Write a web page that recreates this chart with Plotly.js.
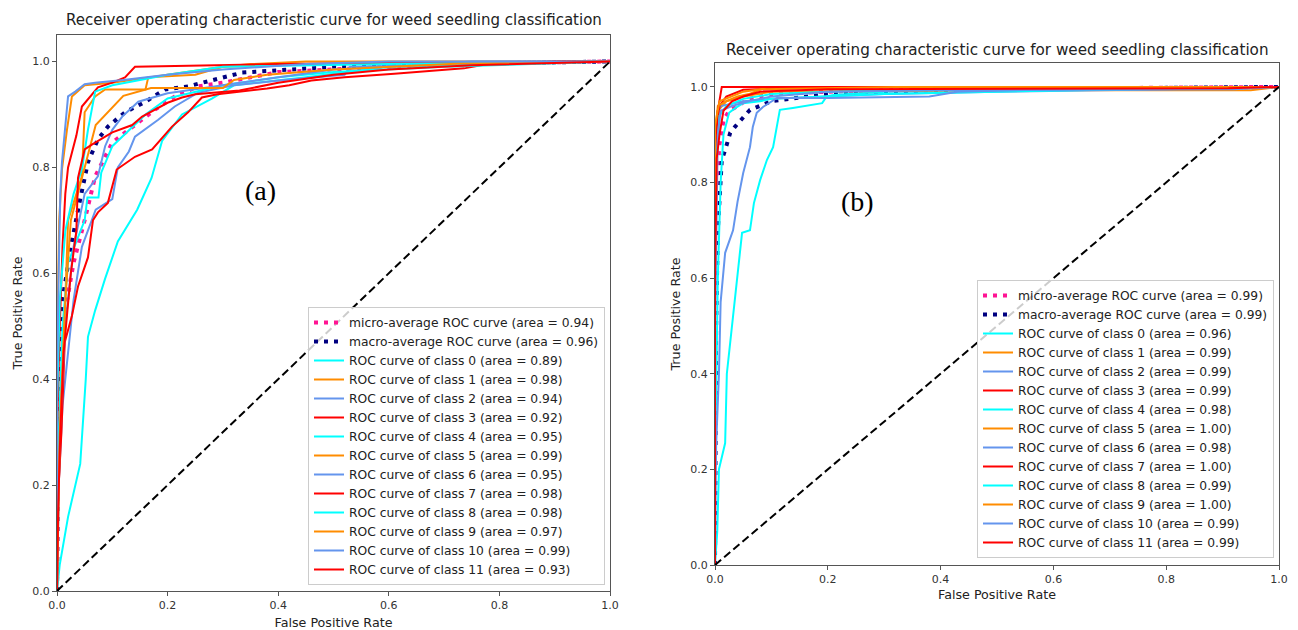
<!DOCTYPE html>
<html>
<head>
<meta charset="utf-8">
<script src="https://cdn.plot.ly/plotly-3.0.1.min.js"></script>
<style>html,body{margin:0;padding:0;background:#fff}#chart{width:1298px;height:630px}</style>
</head>
<body>
<div id="chart"></div>
<script>
// ---------- Panel (a) ----------
const a_micro_fpr = [0,0.002,0.01,0.03,0.05,0.069,0.1,0.136,0.177,0.213,0.255,0.3,0.4,0.6,0.8,1];
const a_micro_tpr = [0,0.3,0.5,0.62,0.7,0.783,0.847,0.877,0.909,0.934,0.953,0.96,0.98,0.99,0.997,1];
const a_macro_fpr = [0,0.002,0.01,0.025,0.04,0.056,0.074,0.092,0.123,0.16,0.195,0.237,0.286,0.335,0.5,0.7,1];
const a_macro_tpr = [0,0.35,0.55,0.65,0.73,0.81,0.853,0.877,0.904,0.924,0.947,0.953,0.966,0.979,0.99,0.995,1];
const a_c0_fpr = [0,0.005,0.02,0.042,0.052,0.056,0.069,0.087,0.11,0.145,0.171,0.19,0.226,0.28,0.32,0.45,0.6,1];
const a_c0_tpr = [0,0.05,0.14,0.24,0.4,0.48,0.53,0.59,0.66,0.72,0.78,0.85,0.9,0.93,0.955,0.97,0.99,1];
const a_c1_fpr = [0,0.003,0.014,0.02,0.045,0.05,0.069,0.087,0.16,0.165,0.25,0.3,0.35,0.45,1];
const a_c1_tpr = [0,0.3,0.518,0.7,0.783,0.904,0.934,0.947,0.947,0.97,0.975,0.99,0.995,1,1];
const a_c2_fpr = [0,0.003,0.01,0.02,0.03,0.045,0.07,0.1,0.11,0.13,0.141,0.183,0.213,0.255,0.32,0.41,0.52,0.53,0.63,0.75,1];
const a_c2_tpr = [0,0.2,0.35,0.45,0.55,0.65,0.72,0.74,0.8,0.83,0.858,0.89,0.915,0.941,0.955,0.965,0.975,0.99,0.992,1,1];
const a_c3_fpr = [0,0,0.003,0.008,0.014,0.027,0.038,0.056,0.065,0.074,0.092,0.108,0.141,0.172,0.208,0.237,0.262,0.29,0.38,0.42,0.46,0.52,0.61,0.736,0.785,0.91,1];
const a_c3_tpr = [0,0.1,0.2,0.3,0.47,0.52,0.575,0.63,0.7,0.715,0.733,0.796,0.82,0.834,0.877,0.904,0.932,0.938,0.949,0.955,0.964,0.97,0.977,0.987,0.996,1,1];
const a_c4_fpr = [0,0.003,0.01,0.02,0.05,0.055,0.075,0.08,0.1,0.13,0.16,0.2,0.3,0.4,0.5,0.7,1];
const a_c4_tpr = [0,0.3,0.5,0.62,0.7,0.743,0.743,0.79,0.84,0.87,0.9,0.93,0.955,0.97,0.98,0.99,1];
const a_c5_fpr = [0,0,0.004,0.009,0.018,0.027,0.05,0.1,0.2,0.3,0.45,1];
const a_c5_tpr = [0,0.45,0.7,0.796,0.871,0.934,0.955,0.96,0.975,0.99,0.995,1];
const a_c6_fpr = [0,0.005,0.015,0.03,0.05,0.074,0.087,0.1,0.118,0.147,0.2,0.3,0.37,0.5,0.7,1];
const a_c6_tpr = [0,0.3,0.5,0.65,0.75,0.783,0.84,0.871,0.896,0.924,0.94,0.955,0.965,0.985,0.995,1];
const a_c7_fpr = [0,0,0.005,0.01,0.015,0.02,0.035,0.045,0.074,0.1,0.123,0.141,0.4,0.6,1];
const a_c7_tpr = [0,0.3,0.5,0.65,0.75,0.8,0.86,0.915,0.951,0.96,0.97,0.99,0.995,0.997,1];
const a_c8_fpr = [0,0,0.005,0.015,0.03,0.045,0.056,0.069,0.1,0.2,0.3,0.6,1];
const a_c8_tpr = [0,0.35,0.55,0.68,0.75,0.796,0.871,0.943,0.955,0.975,0.99,0.995,1];
const a_c9_fpr = [0,0.005,0.015,0.025,0.05,0.07,0.12,0.17,0.3,0.32,0.38,0.5,0.73,1];
const a_c9_tpr = [0,0.3,0.55,0.7,0.8,0.88,0.935,0.95,0.95,0.965,0.975,0.985,0.996,1];
const a_c10_fpr = [0,0,0.003,0.006,0.009,0.014,0.02,0.033,0.05,0.069,0.12,0.2,0.3,0.45,0.6,1];
const a_c10_tpr = [0,0.4,0.6,0.75,0.81,0.871,0.934,0.943,0.957,0.96,0.965,0.975,0.985,0.995,1,1];
const a_c11_fpr = [0,0.002,0.006,0.012,0.018,0.025,0.035,0.038,0.05,0.063,0.1,0.136,0.154,0.177,0.2,0.226,0.25,0.33,0.4,0.5,0.6,0.75,1];
const a_c11_tpr = [0,0.15,0.3,0.45,0.52,0.6,0.68,0.78,0.834,0.843,0.866,0.88,0.896,0.909,0.922,0.932,0.938,0.945,0.96,0.975,0.985,0.993,1];
const a_area = ['0.89','0.98','0.94','0.92','0.95','0.99','0.95','0.98','0.98','0.97','0.99','0.93'];
const a_micro_area = '0.94', a_macro_area = '0.96';

// ---------- Panel (b) ----------
const b_micro_fpr = [0,0,0.003,0.008,0.015,0.025,0.04,0.06,0.1,0.2,0.4,0.7,1];
const b_micro_tpr = [0,0.5,0.8,0.88,0.93,0.95,0.96,0.975,0.985,0.99,0.995,0.998,1];
const b_macro_fpr = [0,0.002,0.005,0.01,0.012,0.018,0.024,0.027,0.035,0.05,0.062,0.1,0.2,0.3,0.5,0.8,1];
const b_macro_tpr = [0,0.5,0.7,0.8,0.847,0.868,0.895,0.904,0.916,0.935,0.952,0.97,0.985,0.99,0.995,0.998,1];
const b_c0_fpr = [0,0.004,0.007,0.018,0.021,0.035,0.039,0.048,0.062,0.069,0.08,0.092,0.103,0.11,0.115,0.138,0.19,0.198,0.21,0.3,0.5,1];
const b_c0_tpr = [0,0.07,0.2,0.255,0.4,0.554,0.603,0.695,0.7,0.757,0.805,0.847,0.874,0.916,0.952,0.956,0.966,0.98,0.983,0.99,0.995,1];
const b_c1_fpr = [0,0,0.005,0.02,0.05,0.1,0.5,0.95,1];
const b_c1_tpr = [0,0.85,0.95,0.97,0.98,0.99,0.993,0.993,1];
const b_c2_fpr = [0,0,0.003,0.005,0.01,0.05,0.1,0.3,0.5,0.8,1];
const b_c2_tpr = [0,0.6,0.85,0.95,0.96,0.97,0.975,0.985,0.99,0.995,1];
const b_c3_fpr = [0,0,0.003,0.008,0.02,0.04,0.05,0.205,1];
const b_c3_tpr = [0,0.7,0.9,0.96,0.98,0.99,0.994,1,1];
const b_c4_fpr = [0,0,0.005,0.01,0.015,0.025,0.035,0.05,0.08,0.1,0.3,0.5,1];
const b_c4_tpr = [0,0.2,0.6,0.8,0.9,0.946,0.955,0.966,0.97,0.975,0.985,0.99,1];
const b_c5_fpr = [0,0,0.005,0.02,0.04,0.06,0.092,1];
const b_c5_tpr = [0,0.9,0.96,0.97,0.98,0.985,1,1];
const b_c6_fpr = [0,0.002,0.007,0.01,0.018,0.032,0.04,0.05,0.062,0.067,0.074,0.085,0.11,0.2,0.38,0.43,0.6,1];
const b_c6_tpr = [0,0.25,0.4,0.55,0.653,0.7,0.76,0.82,0.874,0.916,0.946,0.958,0.977,0.977,0.98,0.99,0.995,1];
const b_c7_fpr = [0,0,0.005,0.012,1];
const b_c7_tpr = [0,0.8,0.95,1,1];
const b_c8_fpr = [0,0,0.003,0.008,0.02,0.05,0.1,0.2,0.38,0.56,1];
const b_c8_tpr = [0,0.5,0.85,0.94,0.96,0.975,0.985,0.99,0.995,0.998,1];
const b_c9_fpr = [0,0,0.008,0.03,0.05,0.08,0.32,1];
const b_c9_tpr = [0,0.92,0.97,0.98,0.99,0.995,1,1];
const b_c10_fpr = [0,0,0.005,0.01,0.03,0.06,0.1,0.2,0.4,0.92,1];
const b_c10_tpr = [0,0.5,0.9,0.95,0.96,0.97,0.98,0.99,0.993,0.995,1];
const b_c11_fpr = [0,0,0.003,0.008,0.015,0.03,0.05,0.08,0.2,0.91,1];
const b_c11_tpr = [0,0.6,0.85,0.9,0.95,0.97,0.98,0.99,0.995,0.997,1];
const b_area = ['0.96','0.99','0.99','0.99','0.98','1.00','0.98','1.00','0.99','1.00','0.99','0.99'];
const b_micro_area = '0.99', b_macro_area = '0.99';

const diag = [0, 1];
const titleText = 'Receiver operating characteristic curve for weed seedling classification';
const classColors = ['#00FFFF', '#FF8C00', '#6495ED', '#FF0000'];

const A = {
  micro: [a_micro_fpr, a_micro_tpr], macro: [a_macro_fpr, a_macro_tpr],
  cls: [[a_c0_fpr,a_c0_tpr],[a_c1_fpr,a_c1_tpr],[a_c2_fpr,a_c2_tpr],[a_c3_fpr,a_c3_tpr],[a_c4_fpr,a_c4_tpr],[a_c5_fpr,a_c5_tpr],
        [a_c6_fpr,a_c6_tpr],[a_c7_fpr,a_c7_tpr],[a_c8_fpr,a_c8_tpr],[a_c9_fpr,a_c9_tpr],[a_c10_fpr,a_c10_tpr],[a_c11_fpr,a_c11_tpr]],
  area: a_area, microArea: a_micro_area, macroArea: a_macro_area
};
const B = {
  micro: [b_micro_fpr, b_micro_tpr], macro: [b_macro_fpr, b_macro_tpr],
  cls: [[b_c0_fpr,b_c0_tpr],[b_c1_fpr,b_c1_tpr],[b_c2_fpr,b_c2_tpr],[b_c3_fpr,b_c3_tpr],[b_c4_fpr,b_c4_tpr],[b_c5_fpr,b_c5_tpr],
        [b_c6_fpr,b_c6_tpr],[b_c7_fpr,b_c7_tpr],[b_c8_fpr,b_c8_tpr],[b_c9_fpr,b_c9_tpr],[b_c10_fpr,b_c10_tpr],[b_c11_fpr,b_c11_tpr]],
  area: b_area, microArea: b_micro_area, macroArea: b_macro_area
};

function panelTraces(P, xa, ya, leg) {
  const t = [];
  t.push({x: P.micro[0], y: P.micro[1], xaxis: xa, yaxis: ya, legend: leg, mode: 'lines', line: {color: '#FF1493', width: 4, dash: '4px,6px'},
          name: 'micro-average ROC curve (area = ' + P.microArea + ')'});
  t.push({x: P.macro[0], y: P.macro[1], xaxis: xa, yaxis: ya, legend: leg, mode: 'lines', line: {color: '#000080', width: 4, dash: '4px,6px'},
          name: 'macro-average ROC curve (area = ' + P.macroArea + ')'});
  P.cls.forEach((c, i) => {
    t.push({x: c[0], y: c[1], xaxis: xa, yaxis: ya, legend: leg, mode: 'lines', line: {color: classColors[i % 4], width: 2},
            name: 'ROC curve of class ' + i + ' (area = ' + P.area[i] + ')'});
  });
  t.push({x: diag, y: diag, xaxis: xa, yaxis: ya, mode: 'lines', showlegend: false, hoverinfo: 'skip',
          line: {color: '#000', width: 2, dash: '8px,4px'}});
  return t;
}

const data = panelTraces(A, 'x', 'y', 'legend').concat(panelTraces(B, 'x2', 'y2', 'legend2'));

const F = 'DejaVu Sans, sans-serif';
const W = 1298, H = 630;
const px = v => v / W, py = v => (H - v) / H;

function xax(d, anchor, standoff) {
  return {domain: d, anchor: anchor, range: [0, 1], tickvals: [0,0.2,0.4,0.6,0.8,1], tickformat: '.1f',
    showline: true, mirror: true, linecolor: '#555', linewidth: 1, ticks: 'outside', ticklen: 4, tickcolor: '#555',
    showgrid: false, zeroline: false, tickfont: {family: F, size: 11, color: '#333'}, fixedrange: true,
    title: {text: 'False Positive Rate', font: {family: F, size: 12.7, color: '#222'}, standoff: standoff}};
}
function yax(d, anchor) {
  return {domain: d, anchor: anchor, range: [0, 1.05], tickvals: [0,0.2,0.4,0.6,0.8,1], tickformat: '.1f',
    showline: true, mirror: true, linecolor: '#555', linewidth: 1, ticks: 'outside', ticklen: 4, tickcolor: '#555',
    showgrid: false, zeroline: false, tickfont: {family: F, size: 11, color: '#333'}, fixedrange: true,
    title: {text: 'True Positive Rate', font: {family: F, size: 12.7, color: '#222'}, standoff: 6}};
}

function legStyle(size) {
  return {bgcolor: 'rgba(255,255,255,0.8)', bordercolor: '#cccccc', borderwidth: 1,
    font: {family: F, size: size, color: '#222'}, xanchor: 'right', yanchor: 'bottom', tracegroupgap: 0};
}

const layout = {
  width: W, height: H, margin: {l: 0, r: 0, t: 0, b: 0}, paper_bgcolor: '#fff', plot_bgcolor: '#fff',
  xaxis: xax([px(57), px(610)], 'y', 8),
  yaxis: yax([py(591), py(35)], 'x'),
  xaxis2: xax([px(715), px(1279)], 'y2', 4),
  yaxis2: yax([py(565), py(63)], 'x2'),
  legend: Object.assign({x: px(605), y: py(585)}, legStyle(12.3)),
  legend2: Object.assign({x: px(1274), y: py(558)}, legStyle(12.3)),
  annotations: [
    {text: titleText, xref: 'paper', yref: 'paper', x: px(334), y: py(20), xanchor: 'center', yanchor: 'middle', showarrow: false,
     font: {family: F, size: 15, color: '#222'}},
    {text: titleText, xref: 'paper', yref: 'paper', x: px(997), y: py(50), xanchor: 'center', yanchor: 'middle', showarrow: false,
     font: {family: F, size: 15.2, color: '#222'}},
    {text: '(a)', xref: 'paper', yref: 'paper', x: px(260), y: py(190), xanchor: 'center', yanchor: 'middle', showarrow: false,
     font: {family: 'Liberation Serif, serif', size: 28, color: '#000'}},
    {text: '(b)', xref: 'paper', yref: 'paper', x: px(857), y: py(202), xanchor: 'center', yanchor: 'middle', showarrow: false,
     font: {family: 'Liberation Serif, serif', size: 28, color: '#000'}}
  ],
  showlegend: true
};

Plotly.newPlot('chart', data, layout, {displayModeBar: false, staticPlot: true});
</script>
</body>
</html>
